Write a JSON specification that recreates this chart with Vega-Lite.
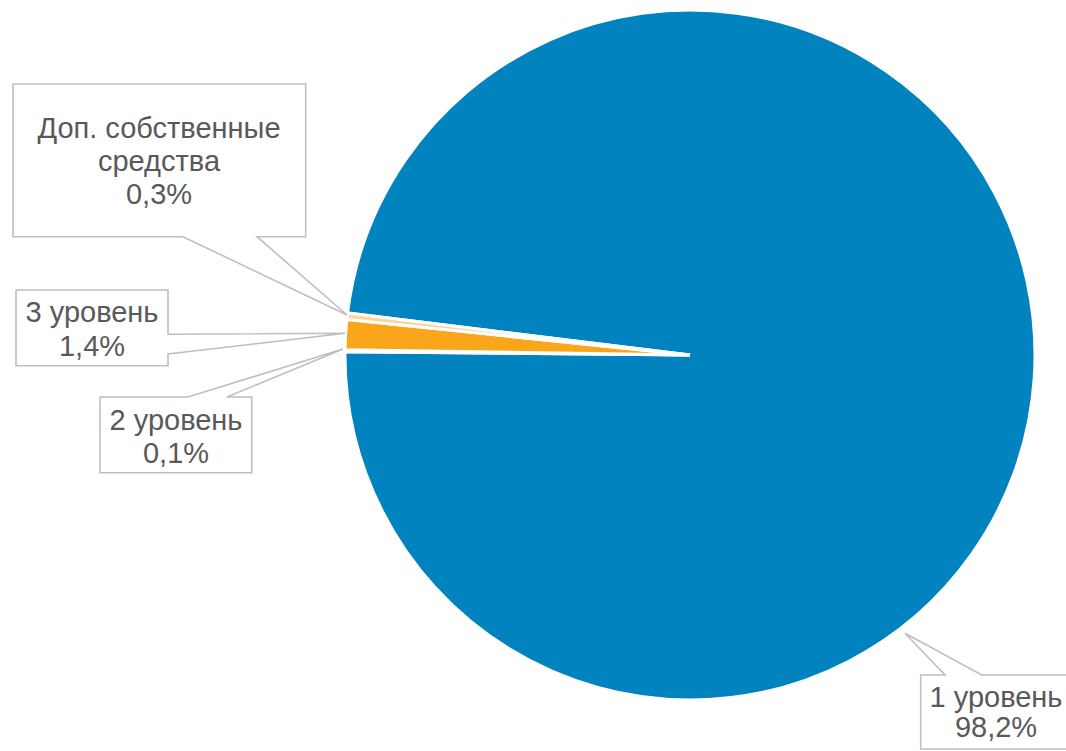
{
  "$schema": "https://vega.github.io/schema/vega-lite/v6.json",
  "width": 1066,
  "height": 751,
  "autosize": {"type": "fit", "contains": "padding"},
  "padding": 0,
  "background": "white",
  "config": {"view": {"stroke": null}},
  "datasets": {
    "pie": [
      {"n": 1, "name": "1 уровень", "v": 98.2},
      {"n": 2, "name": "2 уровень", "v": 0.1},
      {"n": 3, "name": "3 уровень", "v": 1.4},
      {"n": 4, "name": "Доп. собственные средства", "v": 0.3}
    ],
    "outline": [
      {"c": "d", "i": 0, "x": 13, "y": 84},
      {"c": "d", "i": 1, "x": 305.7, "y": 84},
      {"c": "d", "i": 2, "x": 305.7, "y": 236.7},
      {"c": "d", "i": 3, "x": 257, "y": 236.7},
      {"c": "d", "i": 4, "x": 347, "y": 315},
      {"c": "d", "i": 5, "x": 183, "y": 236.7},
      {"c": "d", "i": 6, "x": 13, "y": 236.7},
      {"c": "d", "i": 7, "x": 13, "y": 84},
      {"c": "t", "i": 0, "x": 16, "y": 290},
      {"c": "t", "i": 1, "x": 168, "y": 290},
      {"c": "t", "i": 2, "x": 168, "y": 334.3},
      {"c": "t", "i": 3, "x": 345, "y": 333.3},
      {"c": "t", "i": 4, "x": 168, "y": 354},
      {"c": "t", "i": 5, "x": 168, "y": 365.7},
      {"c": "t", "i": 6, "x": 16, "y": 365.7},
      {"c": "t", "i": 7, "x": 16, "y": 290},
      {"c": "s", "i": 0, "x": 100, "y": 397},
      {"c": "s", "i": 1, "x": 188, "y": 397},
      {"c": "s", "i": 2, "x": 343, "y": 349},
      {"c": "s", "i": 3, "x": 227, "y": 397},
      {"c": "s", "i": 4, "x": 251.7, "y": 397},
      {"c": "s", "i": 5, "x": 251.7, "y": 472.7},
      {"c": "s", "i": 6, "x": 100, "y": 472.7},
      {"c": "s", "i": 7, "x": 100, "y": 397},
      {"c": "f", "i": 0, "x": 1070, "y": 749},
      {"c": "f", "i": 1, "x": 920.7, "y": 749},
      {"c": "f", "i": 2, "x": 920.7, "y": 675},
      {"c": "f", "i": 3, "x": 945, "y": 675},
      {"c": "f", "i": 4, "x": 905, "y": 633.3},
      {"c": "f", "i": 5, "x": 981.7, "y": 675},
      {"c": "f", "i": 6, "x": 1070, "y": 675}
    ],
    "labels": [
      {"t": "Доп. собственные", "x": 159, "y": 138},
      {"t": "средства", "x": 159, "y": 171},
      {"t": "0,3%", "x": 159, "y": 204},
      {"t": "3 уровень", "x": 92, "y": 322},
      {"t": "1,4%", "x": 92, "y": 356},
      {"t": "2 уровень", "x": 176, "y": 430},
      {"t": "0,1%", "x": 176, "y": 463},
      {"t": "1 уровень", "x": 996, "y": 707},
      {"t": "98,2%", "x": 996, "y": 737}
    ]
  },
  "layer": [
    {
      "data": {"name": "pie"},
      "mark": {"type": "arc", "radius": 345, "stroke": "white", "strokeWidth": 3},
      "encoding": {
        "theta": {"field": "v", "type": "quantitative", "stack": true, "scale": {"range": [4.8346, 11.1178]}},
        "order": {"field": "n", "type": "quantitative"},
        "color": {
          "field": "name", "type": "nominal", "legend": null,
          "scale": {
            "domain": ["1 уровень", "2 уровень", "3 уровень", "Доп. собственные средства"],
            "range": ["#0083BE", "#7FC1DE", "#F9A61B", "#FCD598"]
          }
        },
        "x": {"datum": 690, "type": "quantitative", "scale": {"domain": [0, 1066], "nice": false, "zero": false}, "axis": null},
        "y": {"datum": 355, "type": "quantitative", "scale": {"domain": [751, 0], "nice": false, "zero": false}, "axis": null}
      }
    },
    {
      "data": {"name": "outline"},
      "mark": {"type": "line", "color": "#BFBFBF", "strokeWidth": 1.6, "clip": true},
      "encoding": {
        "x": {"field": "x", "type": "quantitative", "scale": {"domain": [0, 1066], "nice": false, "zero": false}, "axis": null},
        "y": {"field": "y", "type": "quantitative", "scale": {"domain": [751, 0], "nice": false, "zero": false}, "axis": null},
        "detail": {"field": "c", "type": "nominal"},
        "order": {"field": "i", "type": "quantitative"}
      }
    },
    {
      "data": {"name": "labels"},
      "mark": {"type": "text", "font": "Liberation Sans", "fontSize": 29, "color": "#595959", "align": "center", "baseline": "alphabetic"},
      "encoding": {
        "x": {"field": "x", "type": "quantitative", "scale": {"domain": [0, 1066], "nice": false, "zero": false}, "axis": null},
        "y": {"field": "y", "type": "quantitative", "scale": {"domain": [751, 0], "nice": false, "zero": false}, "axis": null},
        "text": {"field": "t", "type": "nominal"}
      }
    }
  ]
}
